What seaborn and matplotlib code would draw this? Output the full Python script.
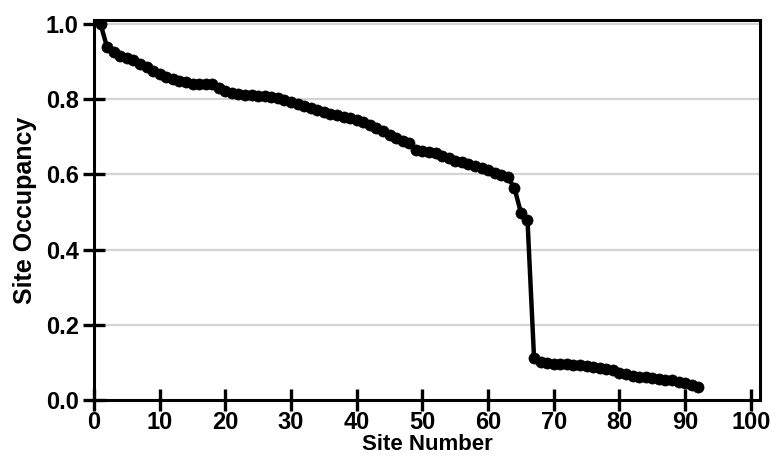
import numpy as np
import pandas as pd
import matplotlib
matplotlib.use("Agg")
import matplotlib.pyplot as plt
import seaborn as sns

# Occupancy of each site, sorted from most to least occupied
site_number = list(range(1, 93))
site_occupancy = [
    1.000, 0.938, 0.925, 0.915, 0.910, 0.905, 0.895, 0.885, 0.875, 0.868,
    0.860, 0.853, 0.848, 0.845, 0.842, 0.841, 0.840, 0.840, 0.830, 0.822,
    0.818, 0.815, 0.812, 0.811, 0.810, 0.808, 0.806, 0.803, 0.798, 0.793,
    0.787, 0.781, 0.776, 0.772, 0.766, 0.762, 0.758, 0.754, 0.750, 0.746,
    0.740, 0.732, 0.724, 0.715, 0.706, 0.698, 0.690, 0.684, 0.666, 0.662,
    0.659, 0.656, 0.650, 0.643, 0.637, 0.632, 0.627, 0.622, 0.617, 0.611,
    0.605, 0.598, 0.592, 0.565, 0.498, 0.479, 0.111, 0.100, 0.098, 0.097,
    0.096, 0.095, 0.094, 0.093, 0.091, 0.088, 0.085, 0.082, 0.079, 0.072,
    0.068, 0.065, 0.062, 0.060, 0.058, 0.056, 0.054, 0.052, 0.049, 0.046,
    0.041, 0.035,
]
x_ticks = [0, 10, 20, 30, 40, 50, 60, 70, 80, 90, 100]
y_ticks = [0.0, 0.2, 0.4, 0.6, 0.8, 1.0]

df = pd.DataFrame({"Site Number": site_number, "Site Occupancy": site_occupancy})

sns.set_theme(style="ticks", rc={"axes.axisbelow": False})
plt.rcParams["font.family"] = ["Liberation Sans", "DejaVu Sans"]
plt.rcParams["font.weight"] = "bold"

fig = plt.figure(figsize=(7.71, 4.57), dpi=100)
ax = fig.add_axes([94 / 771, 1 - 400 / 457, (760 - 94) / 771, (400 - 20) / 457])

# light horizontal guides at each labelled occupancy level
for y in y_ticks[1:]:
    ax.axhline(y, color="#d4d4d4", linewidth=1.6, zorder=0)

sns.lineplot(data=df, x="Site Number", y="Site Occupancy", ax=ax,
             color="black", linewidth=3.2, marker="o", markersize=8,
             markeredgecolor="black", markeredgewidth=0.5, zorder=3)

ax.set_xlim(0, 101.4)
ax.set_ylim(0, 1.011)
ax.set_xticks(x_ticks)
ax.set_yticks(y_ticks)
ax.set_yticklabels([f"{v:.1f}" for v in y_ticks])

for side in ["left", "right", "top", "bottom"]:
    ax.spines[side].set_visible(True)
    ax.spines[side].set_color("black")
    ax.spines[side].set_linewidth(2.2)

ax.tick_params(axis="both", which="major", bottom=True, left=True,
               top=False, right=False, direction="inout", length=16, width=2.4,
               color="black", labelsize=17, labelcolor="black")
ax.tick_params(axis="y", pad=3)
ax.tick_params(axis="x", pad=0)
for lab in ax.get_xticklabels() + ax.get_yticklabels():
    lab.set_fontweight("bold")

ax.set_xlabel("Site Number", fontsize=16, fontweight="bold", color="black", labelpad=0)
ax.set_ylabel("Site Occupancy", fontsize=18, fontweight="bold", color="black", labelpad=6)

fig.savefig("out.png", dpi=100)
